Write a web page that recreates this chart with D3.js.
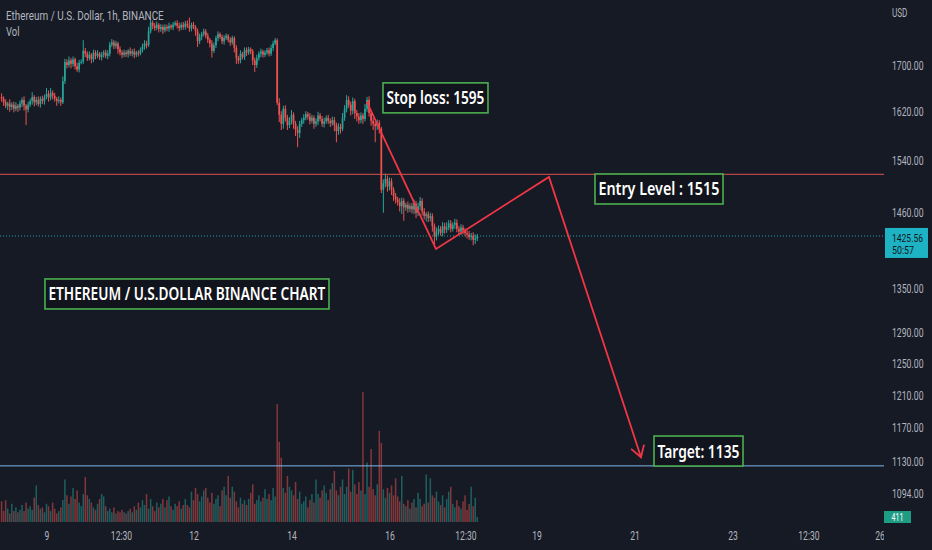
<!DOCTYPE html>
<html><head><meta charset="utf-8">
<script src="https://cdn.jsdelivr.net/npm/d3@7"></script>
<style>
html,body{margin:0;padding:0;background:#161a25;overflow:hidden;}
svg{display:block;}
</style></head><body>
<svg id="c" width="932" height="550"></svg>
<script>
// ---------------- DATA ----------------
const firstCandleDay = 8 + 2/24;          // first hourly candle (day of month)
const firstOpen = 1645;
const closes = [
 1642,1636,1630,1634,1628,1632,1625,1630,1627,1634,
 1640,1630,1624,1632,1638,1645,1636,1640,1633,1642,
 1638,1645,1650,1644,1652,1647,1642,1638,1640,1636,
 1672,1705,1700,1708,1702,1710,1698,1692,1704,1706,
 1725,1720,1712,1718,1710,1722,1716,1720,1714,1718,
 1722,1716,1720,1736,1740,1734,1738,1728,1722,1718,
 1722,1719,1725,1720,1724,1718,1722,1720,1726,1732,
 1738,1735,1760,1776,1770,1766,1772,1764,1768,1762,
 1768,1765,1770,1767,1772,1775,1770,1766,1772,1768,
 1774,1770,1765,1772,1768,1760,1742,1750,1755,1760,
 1752,1745,1738,1725,1735,1748,1755,1750,1742,1748,
 1752,1745,1740,1748,1730,1712,1708,1720,1714,1726,
 1722,1728,1724,1708,1700,1712,1720,1724,1718,1722,
 1726,1720,1730,1738,1744,1635,1615,1600,1625,1610,
 1598,1605,1615,1600,1590,1585,1600,1606,1610,1616,
 1612,1605,1610,1600,1604,1614,1608,1600,1604,1610,
 1605,1601,1606,1598,1588,1595,1592,1610,1625,1640,
 1632,1622,1638,1618,1612,1606,1614,1608,1625,1640,
 1618,1605,1600,1596,1602,1592,1495,1505,1512,1500,
 1508,1495,1485,1480,1476,1470,1478,1468,1472,1466,
 1470,1465,1474,1460,1470,1478,1462,1455,1458,1452,
 1455,1440,1425,1432,1436,1430,1440,1435,1438,1444,
 1436,1442,1445,1436,1432,1438,1434,1430,1428,1424,
 1426,1420,1422,1425.56
];
const upperWicks = [
 6,4,5,3,7,4,5,6,3,5, 4,6,3,5,4,8,3,5,6,4, 5,4,10,6,8,4,5,3,6,4,
 8,6,5,7,4,5,3,6,5,4, 19,5,4,6,3,5,4,6,3,5, 4,5,6,5,6,4,5,3,5,4,
 5,4,3,6,4,5,3,4,5,6, 6,5,8,6,4,5,6,3,5,4, 5,4,6,3,5,4,5,6,4,5,
 5,6,15,4,5,3,5,6,4,5, 4,5,3,6,5,4,5,3,4,5, 4,3,5,4,3,5,4,6,3,5,
 5,4,3,4,5,6,4,5,3,4, 4,5,6,5,4,3,8,6,5,6, 5,6,8,4,5,6,5,4,6,5,
 4,6,5,4,5,6,4,5,6,4, 5,4,6,5,4,6,5,8,6,8, 6,5,6,4,5,6,5,4,8,5,
 6,4,5,4,5,4,3,6,8,5, 6,5,4,5,4,6,5,4,3,5, 4,5,6,4,5,6,4,5,3,4,
 5,4,4,6,5,4,6,5,8,5, 5,4,6,5,4,5,4,3,4,5, 4,5,6,3
];
const lowerWicks = [
 5,6,4,7,8,5,6,4,7,5, 6,8,26,5,4,6,7,5,4,6, 5,6,4,7,5,6,5,8,4,6,
 3,5,6,4,8,5,6,4,5,3, 4,6,5,4,7,5,6,4,5,6, 5,4,6,5,4,6,5,8,5,6,
 4,5,6,4,5,6,4,5,3,4, 5,6,3,4,6,5,4,6,5,7, 4,5,6,4,5,3,5,6,4,5,
 5,4,6,5,4,8,10,5,6,4, 5,6,7,12,4,5,6,4,5,6, 4,5,6,4,8,10,6,5,4,5,
 6,4,5,8,12,5,4,6,5,4, 4,5,4,5,3,4,12,10,8,6, 8,5,6,8,10,23,8,5,6,4,
 5,6,4,8,5,6,4,5,6,4, 5,6,4,10,18,6,8,4,5,6, 5,8,6,10,8,6,5,8,4,5,
 6,8,10,26,6,8,5,35,6,8, 6,8,7,6,5,8,12,20,5,6, 5,6,7,8,5,6,6,5,8,6,
 5,8,12,6,5,4,5,6,5,4, 5,4,6,5,4,5,6,5,6,4, 5,8,6,4
];
const volumes = [
 1700,900,1800,1100,700,1500,900,1200,800,1000,
 1400,900,1600,1100,1300,1000,2000,3000,1400,1100,
 1200,800,1500,1300,900,1600,1100,700,900,1200,
 1800,3500,2200,1500,2100,2800,1900,2600,1600,1300,
 2300,3700,2200,1900,1600,1200,1000,1500,1900,2300,
 2100,1300,900,1100,800,1200,700,900,800,1000,
 800,700,900,1100,800,1300,1000,1600,1200,1800,
 1400,2300,1100,1900,1300,900,1600,1200,1500,1900,
 1200,1800,2100,1300,1000,1500,1300,1700,1100,1400,
 1900,1400,1200,2500,1800,2800,2300,1700,2100,2600,
 2800,2000,1600,2400,1500,1900,2200,1300,2600,2900,
 2200,3800,2000,2900,2500,1700,1200,2000,1500,1800,
 1400,1900,2400,3100,1500,1800,2200,1700,2000,2700,
 1900,2300,1800,2800,2100,9700,6600,5300,2800,2400,
 3800,2900,2600,2200,3300,1900,2500,1500,1700,2100,
 1200,1800,2300,1600,3500,2300,2000,2600,3000,2400,
 1800,2700,3200,4200,2600,2200,2900,3500,2300,2900,
 4400,2500,4300,3100,2300,3300,2600,10700,2300,4900,
 2900,6000,2700,2200,3100,7500,6500,2700,2000,2800,
 2400,3000,2200,3600,2100,1700,3800,1500,1300,1800,
 1100,1600,1900,1200,2400,1900,1300,1500,3900,1600,
 3600,2200,2000,2500,1700,1400,2200,1200,1900,2500,
 2900,1500,1200,1800,1300,1100,1700,2200,1000,1500,
 2900,1300,2000,411
];
const priceTicks = [1700,1620,1540,1460,1350,1290,1250,1210,1170,1130,1094];
const timeTicks = [9,10.52,12,14,16,17.55,19,21,23,24.55,26];
const timeTickLabels = ["9","12:30","12","14","16","12:30","19","21","23","12:30","26"];
const lastPrice = 1425.56;
const countdown = "50:57";
const entryPrice = 1519;
const targetPrice = 1125;
const pathDays = [15.535,16.949,19.255,21.133];
const pathPrices = [1637,1406.6,1515,1135];
const noteTexts = ["Stop loss: 1595","Entry Level : 1515","ETHEREUM / U.S.DOLLAR BINANCE CHART","Target: 1135"];
const noteDays = [15.867,20.194,8.969,21.398];
const notePrices = [1669,1519.5,1363.8,1160.1];
const titleText = "Ethereum / U.S. Dollar, 1h, BINANCE";

// ---------------- LAYOUT / STYLE ----------------
const W = 932, H = 550, plotR = 884, plotB = 523;
const UP = "#26a69a", DOWN = "#ef5350";
const FONT = "Roboto, 'Noto Sans', sans-serif";
const noteTextW = [98,121,277,82];
const noteBoxPad = 3.5, noteBoxH = 30;

const svg = d3.select("#c");
svg.append("rect").attr("width",W).attr("height",H).attr("fill","#161a25");
const defs = svg.append("defs");
defs.append("clipPath").attr("id","plot").append("rect").attr("x",0).attr("y",0).attr("width",plotR).attr("height",plotB);

const x = d3.scaleLinear().domain([8.051, 26.092]).range([0, plotR]);
const y = d3.scaleLog().domain([1700, 1094]).range([65, 493]);
const v = d3.scaleLinear().domain([0, 10700]).range([522, 392]);

// horizontally condense a text element to a target width (keeps its anchor point)
function condense(node, targetW){
  const w = node.getComputedTextLength();
  const k = targetW / w;
  const xv = +(node.getAttribute("x") || 0);
  node.setAttribute("x", xv / k);
  node.setAttribute("transform", `scale(${k},1)`);
  return k;
}
function condenseBy(node, k){
  const xv = +(node.getAttribute("x") || 0);
  node.setAttribute("x", xv / k);
  node.setAttribute("transform", `scale(${k},1)`);
}

const candles = closes.map((c,i)=>{
  const o = i===0 ? firstOpen : closes[i-1];
  return {d: firstCandleDay + i/24, o, c,
    h: Math.max(o,c)+upperWicks[i], l: Math.min(o,c)-lowerWicks[i], vol: volumes[i]};
});

const plot = svg.append("g").attr("clip-path","url(#plot)");

// volume
plot.append("g").selectAll("rect").data(candles).join("rect")
  .attr("x", d=>x(d.d)-0.75).attr("width",1.5)
  .attr("y", d=>v(d.vol)).attr("height", d=>v(0)-v(d.vol))
  .attr("fill", d=>d.c>=d.o?UP:DOWN).attr("opacity",0.5);

// candles
const cg = plot.append("g");
cg.selectAll("line").data(candles).join("line")
  .attr("x1", d=>x(d.d)).attr("x2", d=>x(d.d))
  .attr("y1", d=>y(d.h)).attr("y2", d=>y(d.l))
  .attr("stroke", d=>d.c>=d.o?UP:DOWN).attr("stroke-width",1);
cg.selectAll("rect").data(candles).join("rect")
  .attr("x", d=>x(d.d)-0.85).attr("width",1.7)
  .attr("y", d=>y(Math.max(d.o,d.c)))
  .attr("height", d=>Math.max(1, Math.abs(y(d.o)-y(d.c))))
  .attr("fill", d=>d.c>=d.o?UP:DOWN);

// horizontal levels
plot.append("line").attr("x1",0).attr("x2",plotR).attr("y1",y(entryPrice)).attr("y2",y(entryPrice))
  .attr("stroke","#d9534f").attr("stroke-width",1);
plot.append("line").attr("x1",0).attr("x2",plotR).attr("y1",y(targetPrice)).attr("y2",y(targetPrice))
  .attr("stroke","#7fb6ea").attr("stroke-width",1);
plot.append("line").attr("x1",0).attr("x2",plotR).attr("y1",y(lastPrice)).attr("y2",y(lastPrice))
  .attr("stroke","#26a6a6").attr("stroke-width",1).attr("stroke-dasharray","1 2");

// red path
const pts = pathDays.map((d,i)=>[x(d), y(pathPrices[i])]);
plot.append("path").attr("d", d3.line()(pts)).attr("fill","none")
  .attr("stroke","#f23645").attr("stroke-width",1.8).attr("stroke-linejoin","miter");
{
  const [a,b] = pts.slice(-2);
  const ang = Math.atan2(b[1]-a[1], b[0]-a[0]) + Math.PI;
  const L = 13, sp = 0.55;
  const w1 = [b[0]+L*Math.cos(ang-sp), b[1]+L*Math.sin(ang-sp)];
  const w2 = [b[0]+L*Math.cos(ang+sp), b[1]+L*Math.sin(ang+sp)];
  plot.append("path").attr("d", d3.line()([w1,b,w2])).attr("fill","none")
    .attr("stroke","#f23645").attr("stroke-width",1.8);
}

// annotation boxes
noteTexts.forEach((t,i)=>{
  const bx = x(noteDays[i]), by = y(notePrices[i]);
  const g = svg.append("g");
  g.append("rect").attr("x",bx).attr("y",by).attr("width",noteTextW[i]+2*noteBoxPad).attr("height",noteBoxH)
    .attr("fill","#11141c").attr("stroke","#4caf50").attr("stroke-width",1.6);
  const tx = g.append("text").attr("x",bx+noteBoxPad).attr("y",by+21.5)
    .attr("fill","#ffffff").attr("font-family","'Noto Sans', 'DejaVu Sans', sans-serif")
    .attr("font-weight",600).attr("font-size",18).text(t);
  condense(tx.node(), noteTextW[i]);
});

// header
const ht = svg.append("text").attr("x",6).attr("y",20.5).attr("fill","#b2b5be")
  .attr("font-family",FONT).attr("font-size",12.5).text(titleText);
condense(ht.node(), 158);
const vt = svg.append("text").attr("x",6).attr("y",36.5).attr("fill","#b2b5be")
  .attr("font-family",FONT).attr("font-size",12.5).text("Vol");
condense(vt.node(), 13.5);

// price axis
const ya = svg.append("g").attr("transform",`translate(${plotR+1},0)`)
  .call(d3.axisRight(y).tickValues(priceTicks).tickFormat(d3.format(".2f")).tickSize(0).tickPadding(7));
ya.select(".domain").remove();
ya.selectAll("text").attr("fill","#b2b5be").attr("font-family",FONT).attr("font-size",12.5);
{
  const nodes = ya.selectAll("text").nodes();
  const k = 31.6 / nodes[0].getComputedTextLength();
  nodes.forEach(n=>condenseBy(n,k));
}
const usd = svg.append("text").attr("x",892).attr("y",17).attr("fill","#b2b5be")
  .attr("font-family",FONT).attr("font-size",12).text("USD");
condense(usd.node(), 15.5);

// last price label
const lp = svg.append("g");
lp.append("rect").attr("x",plotR+1).attr("y",y(lastPrice)-8).attr("width",43).attr("height",30).attr("fill","#1eb3c4");
const lpt = lp.append("text").attr("x",892).attr("y",y(lastPrice)+6).attr("fill","#131722")
  .attr("font-family",FONT).attr("font-size",11.5).text(d3.format(".2f")(lastPrice));
condense(lpt.node(), 31);
const cdt = lp.append("text").attr("x",892).attr("y",y(lastPrice)+18).attr("fill","#131722")
  .attr("font-family",FONT).attr("font-size",11.5).text(countdown);
condense(cdt.node(), 22);

// last volume label
const lastVol = volumes[volumes.length-1];
svg.append("rect").attr("x",plotR).attr("y",v(lastVol)-6).attr("width",27).attr("height",12).attr("fill","#1f9c84");
const lvt = svg.append("text").attr("x",plotR+13.5).attr("y",v(lastVol)+4).attr("text-anchor","middle")
  .attr("fill","#ffffff").attr("font-family",FONT).attr("font-size",10).text(d3.format("d")(lastVol));
condense(lvt.node(), 12);

// time axis
defs.append("clipPath").attr("id","taxis").append("rect").attr("x",0).attr("y",plotB).attr("width",plotR).attr("height",H-plotB);
const xa = svg.append("g").attr("clip-path","url(#taxis)").append("g").attr("transform",`translate(0,${plotB})`)
  .call(d3.axisBottom(x).tickValues(timeTicks).tickFormat((d,i)=>timeTickLabels[i]).tickSize(0).tickPadding(8.5));
xa.select(".domain").remove();
xa.selectAll("text").attr("fill","#b2b5be").attr("font-family",FONT).attr("font-size",12);
{
  const nodes = xa.selectAll("text").nodes();
  const k = 21.3 / nodes[1].getComputedTextLength();
  nodes.forEach(n=>condenseBy(n,k));
}
</script>
</body></html>
